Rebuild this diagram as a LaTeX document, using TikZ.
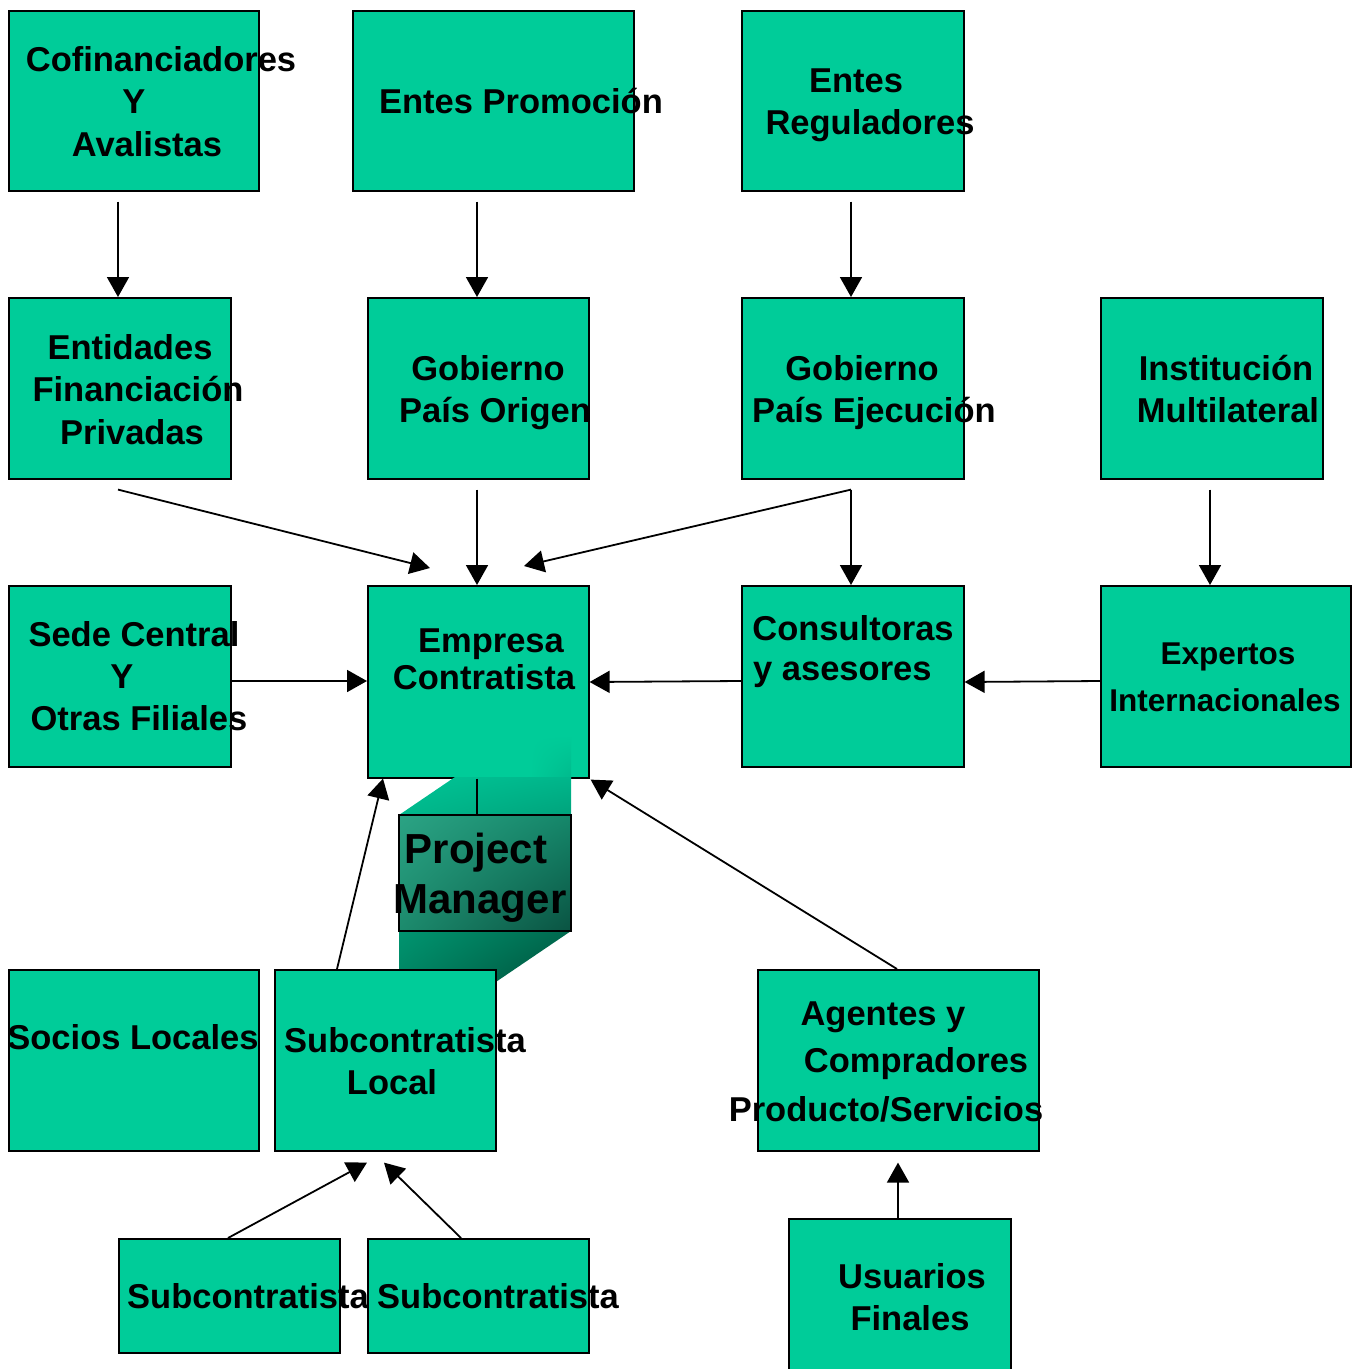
\documentclass[tikz,border=0pt]{standalone}
\usepackage{fontspec}
\setmainfont{Liberation Sans}
\usetikzlibrary{arrows.meta,calc,shadings}
\definecolor{boxgreen}{RGB}{0,204,153}
\definecolor{hexA}{HTML}{00C495}
\definecolor{hexB}{HTML}{00B68B}
\definecolor{hexC}{HTML}{007C5C}
\definecolor{hexD}{HTML}{00422F}
\definecolor{stripD}{HTML}{00BA8D}
\definecolor{pmA}{HTML}{2BA384}
\definecolor{pmB}{HTML}{15876A}
\definecolor{pmC}{HTML}{1C8B6D}
\definecolor{pmD}{HTML}{0A5342}
\tikzset{
  bx/.style={draw=black, fill=boxgreen, line width=1.6pt, rectangle, inner sep=0pt, anchor=north west},
  lbl/.style={inner sep=0pt, anchor=base, font=\fontsize{34.5}{42}\selectfont\bfseries},
  lblsm/.style={inner sep=0pt, anchor=base, font=\fontsize{31.5}{40}\selectfont\bfseries},
  lblbig/.style={inner sep=0pt, anchor=base, font=\fontsize{42}{50}\selectfont\bfseries},
  arr/.style={line width=1.8pt, -{Triangle[length=20pt,width=22pt]}},
  ln/.style={line width=1.8pt}
}
\begin{document}
\begin{tikzpicture}[x=1pt,y=-1pt]
\useasboundingbox (0,0) rectangle (1353,1369);
% boxes
\node[bx, minimum width=250pt, minimum height=180pt] (b1) at (8,10) {};
\node[bx, minimum width=281pt, minimum height=180pt] (b2) at (352,10) {};
\node[bx, minimum width=222pt, minimum height=180pt] (b3) at (741,10) {};
\node[bx, minimum width=222pt, minimum height=181pt] (b4) at (8,297) {};
\node[bx, minimum width=221pt, minimum height=181pt] (b5) at (367,297) {};
\node[bx, minimum width=222pt, minimum height=181pt] (b6) at (741,297) {};
\node[bx, minimum width=222pt, minimum height=181pt] (b7) at (1100,297) {};
\node[bx, minimum width=222pt, minimum height=181pt] (b8) at (8,585) {};
\node[bx, minimum width=221pt, minimum height=192pt] (b9) at (367,585) {};
\node[bx, minimum width=222pt, minimum height=181pt] (b10) at (741,585) {};
\node[bx, minimum width=250pt, minimum height=181pt] (b11) at (1100,585) {};
\node[bx, minimum width=250pt, minimum height=181pt] (b12) at (8,969) {};
% project manager extrusion
\shade[upper left=boxgreen, upper right=boxgreen, lower left=boxgreen, lower right=stripD]
  (530,735) rectangle (571,778);
\shade[upper left=hexA, upper right=hexB, lower left=hexC, lower right=hexD]
  (399,815) -- (455,777) -- (571,777) -- (571,931) -- (453,1011) -- (399,1011) -- cycle;
\shade[upper left=pmA, upper right=pmB, lower left=pmC, lower right=pmD, draw=black, line width=1.4pt]
  (399,815) rectangle (571,931);
\node[inner sep=0pt, minimum width=172pt, minimum height=116pt, anchor=north west] (pm) at (399,815) {};
\node[bx, minimum width=221pt, minimum height=181pt] (b13) at (274,969) {};
\node[bx, minimum width=281pt, minimum height=181pt] (b14) at (757,969) {};
\node[bx, minimum width=221pt, minimum height=114pt] (b15) at (118,1238) {};
\node[bx, minimum width=221pt, minimum height=114pt] (b16) at (367,1238) {};
\node[bx, minimum width=222pt, minimum height=170pt] (b17) at (788,1218) {};

% texts
\node[lbl] (t1a) at (161,71) {Cofinanciadores};
\node[lbl] (t1b) at (134,113) {Y};
\node[lbl] (t1c) at (147,156) {Avalistas};
\node[lbl] (t2a) at (521,113) {Entes Promoción};
\node[lbl] (t3a) at (856,92) {Entes};
\node[lbl] (t3b) at (870,134) {Reguladores};
\node[lbl] (t4a) at (130,359) {Entidades};
\node[lbl] (t4b) at (138,401) {Financiación};
\node[lbl] (t4c) at (132,444) {Privadas};
\node[lbl] (t5a) at (488,380) {Gobierno};
\node[lbl] (t5b) at (495,422) {País Origen};
\node[lbl] (t6a) at (862,380) {Gobierno};
\node[lbl] (t6b) at (874,422) {País Ejecución};
\node[lbl] (t7a) at (1226,380) {Institución};
\node[lbl] (t7b) at (1228,422) {Multilateral};
\node[lbl] (t8a) at (134,646) {Sede Central};
\node[lbl] (t8b) at (122,688) {Y};
\node[lbl] (t8c) at (139,730) {Otras Filiales};
\node[lbl] (t9a) at (491,652) {Empresa};
\node[lbl] (t9b) at (484,689) {Contratista};
\node[lbl] (t10a) at (853,640) {Consultoras};
\node[lbl, anchor=base west] (t10b) at (753,680) {y asesores};
\node[lblsm] (t11a) at (1228,664) {Expertos};
\node[lblsm] (t11b) at (1225,711) {Internacionales};
\node[lblbig] (tpa) at (476,863) {Project};
\node[lblbig] (tpb) at (480,913) {Manager};
\node[lbl] (t12a) at (133,1049) {Socios Locales};
\node[lbl] (t13a) at (405,1052) {Subcontratista};
\node[lbl] (t13b) at (392,1094) {Local};
\node[lbl] (t14a) at (883,1025) {Agentes y};
\node[lbl] (t14b) at (916,1072) {Compradores};
\node[lbl] (t14c) at (886,1121) {Producto/Servicios};
\node[lbl] (t15a) at (248,1308) {Subcontratista};
\node[lbl] (t16a) at (498,1308) {Subcontratista};
\node[lbl] (t17a) at (912,1288) {Usuarios};
\node[lbl] (t17b) at (910,1330) {Finales};

% connectors
\draw[arr] ([xshift=110pt,yshift=-10pt]b1.south west) -- ([xshift=110pt]b4.north west);
\draw[arr] ([xshift=125pt,yshift=-10pt]b2.south west) -- ([xshift=110pt]b5.north west);
\draw[arr] ([xshift=110pt,yshift=-10pt]b3.south west) -- ([xshift=110pt]b6.north west);
\draw[arr] ([xshift=110pt,yshift=-10pt]b4.south west) -- ([xshift=63pt,yshift=17pt]b9.north west);
\draw[arr] ([xshift=110pt,yshift=-10pt]b5.south west) -- ([xshift=110pt]b9.north west);
\draw[arr] ([xshift=110pt,yshift=-10pt]b6.south west) -- ([xshift=157pt,yshift=19pt]b9.north west);
\draw[arr] ([xshift=110pt,yshift=-10pt]b6.south west) -- ([xshift=110pt]b10.north west);
\draw[arr] ([xshift=110pt,yshift=-10pt]b7.south west) -- ([xshift=110pt]b11.north west);
\draw[arr] ([yshift=-96pt]b8.north east) -- ([yshift=-96pt]b9.north west);
\draw[arr] ([yshift=-96pt]b10.north west) -- ([yshift=-97pt]b9.north east);
\draw[arr] ([yshift=-96pt]b11.north west) -- ([yshift=-97pt]b10.north east);
\draw[ln] ([xshift=110pt]b9.south west) -- ([xshift=78pt]pm.north west);
\draw[arr] ([xshift=63pt]b13.north west) -- ([xshift=16pt]b9.south west);
\draw[arr] ([xshift=140pt]b14.north west) -- ([xshift=1pt,yshift=-1pt]b9.south east);
\draw[arr] ([xshift=110pt]b17.north west) -- ([xshift=141pt,yshift=-11pt]b14.south west);
\draw[arr] ([xshift=110pt]b15.north west) -- ([xshift=93pt,yshift=-11pt]b13.south west);
\draw[arr] ([xshift=94pt]b16.north west) -- ([xshift=110pt,yshift=-11pt]b13.south west);
\end{tikzpicture}
\end{document}
